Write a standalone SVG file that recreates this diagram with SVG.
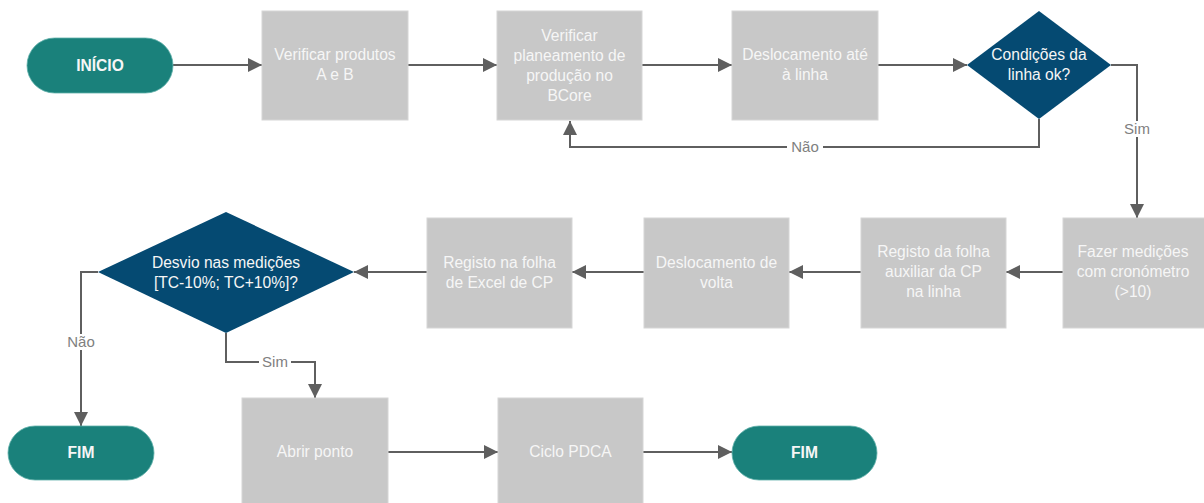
<svg xmlns="http://www.w3.org/2000/svg" width="1204" height="503" viewBox="0 0 1204 503">
<style>
.term{fill:#1a817b;stroke:#5fb0aa;stroke-width:0.8}
.proc{fill:#c8c8c8;stroke:#d6d6d6;stroke-width:1}
.dec{fill:#054a72}
.tw{font-family:"Liberation Sans",Arial,sans-serif;font-size:15.6px;fill:#f6f6f6;text-anchor:middle}
.tb{font-family:"Liberation Sans",Arial,sans-serif;font-size:15.6px;font-weight:bold;fill:#f6f6f6;text-anchor:middle}
.lbl{font-family:"Liberation Sans",Arial,sans-serif;font-size:15px;fill:#808080;text-anchor:middle}
.c{fill:none;stroke:#5f5f5f;stroke-width:2}
</style>
<defs>
<marker id="ah" markerWidth="14" markerHeight="14" viewBox="0 0 14 14" refX="14" refY="7" orient="auto" markerUnits="userSpaceOnUse">
<path d="M0,0 L14,7 L0,14 z" fill="#5f5f5f"/>
</marker>
</defs>
<rect width="1204" height="503" fill="#ffffff"/>
<g id="connectors">
<path class="c" d="M173,65 L262,65" marker-end="url(#ah)"/>
<path class="c" d="M408,65 L497,65" marker-end="url(#ah)"/>
<path class="c" d="M642,65 L732,65" marker-end="url(#ah)"/>
<path class="c" d="M878,65 L967,65" marker-end="url(#ah)"/>
<path class="c" d="M1039,119 L1039,147 L570,147 L570,121" marker-end="url(#ah)"/>
<path class="c" d="M1111,65 L1137,65 L1137,218" marker-end="url(#ah)"/>
<path class="c" d="M1063,272 L1006,272" marker-end="url(#ah)"/>
<path class="c" d="M861,272 L789,272" marker-end="url(#ah)"/>
<path class="c" d="M644,272 L572,272" marker-end="url(#ah)"/>
<path class="c" d="M427,272 L354,272" marker-end="url(#ah)"/>
<path class="c" d="M98,272 L81,272 L81,426" marker-end="url(#ah)"/>
<path class="c" d="M226,333 L226,362 L315,362 L315,398" marker-end="url(#ah)"/>
<path class="c" d="M388,452 L498,452" marker-end="url(#ah)"/>
<path class="c" d="M643,452 L732,452" marker-end="url(#ah)"/>
<rect x="787" y="139" width="36" height="16" fill="#ffffff"/>
<text class="lbl" x="805" y="152">Não</text>
<rect x="1121" y="121" width="32" height="16" fill="#ffffff"/>
<text class="lbl" x="1137" y="134">Sim</text>
<rect x="63" y="334" width="36" height="16" fill="#ffffff"/>
<text class="lbl" x="81" y="347">Não</text>
<rect x="259" y="354" width="32" height="16" fill="#ffffff"/>
<text class="lbl" x="275" y="367">Sim</text>
</g>
<g id="inicio"><rect class="term" x="27" y="38" width="146" height="55" rx="27.5"/><text class="tb" x="100" y="71">INÍCIO</text></g>
<g id="verificar-produtos"><rect class="proc" x="262" y="11" width="146" height="109"/><text class="tw" x="335" y="60">Verificar produtos</text><text class="tw" x="335" y="80">A e B</text></g>
<g id="verificar-planeamento"><rect class="proc" x="497" y="11" width="145" height="109"/><text class="tw" x="569.5" y="41">Verificar</text><text class="tw" x="569.5" y="61">planeamento de</text><text class="tw" x="569.5" y="81">produção no</text><text class="tw" x="569.5" y="101">BCore</text></g>
<g id="deslocamento-linha"><rect class="proc" x="732" y="11" width="146" height="109"/><text class="tw" x="805" y="60">Deslocamento até</text><text class="tw" x="805" y="80">à linha</text></g>
<g id="condicoes"><polygon class="dec" points="1039,11 1111,65 1039,119 967,65"/><text class="tw" x="1039" y="60">Condições da</text><text class="tw" x="1039" y="80">linha ok?</text></g>
<g id="fazer-medicoes"><rect class="proc" x="1063" y="218" width="146" height="110"/><text class="tw" x="1133" y="257">Fazer medições</text><text class="tw" x="1133" y="277">com cronómetro</text><text class="tw" x="1133" y="297">(&gt;10)</text></g>
<g id="registo-folha-auxiliar"><rect class="proc" x="861" y="218" width="145" height="110"/><text class="tw" x="933.5" y="257">Registo da folha</text><text class="tw" x="933.5" y="277">auxiliar da CP</text><text class="tw" x="933.5" y="297">na linha</text></g>
<g id="deslocamento-volta"><rect class="proc" x="644" y="218" width="145" height="110"/><text class="tw" x="716.5" y="268">Deslocamento de</text><text class="tw" x="716.5" y="288">volta</text></g>
<g id="registo-excel"><rect class="proc" x="427" y="218" width="145" height="110"/><text class="tw" x="499.5" y="268">Registo na folha</text><text class="tw" x="499.5" y="288">de Excel de CP</text></g>
<g id="desvio"><polygon class="dec" points="226,212 354,272 226,333 98,272"/><text class="tw" x="226" y="268">Desvio nas medições</text><text class="tw" x="226" y="288">[TC-10%; TC+10%]?</text></g>
<g id="fim-1"><rect class="term" x="8" y="426" width="146" height="54" rx="27"/><text class="tb" x="81" y="458">FIM</text></g>
<g id="abrir-ponto"><rect class="proc" x="242" y="398" width="146" height="110"/><text class="tw" x="315" y="457">Abrir ponto</text></g>
<g id="ciclo-pdca"><rect class="proc" x="498" y="398" width="145" height="110"/><text class="tw" x="570.5" y="457">Ciclo PDCA</text></g>
<g id="fim-2"><rect class="term" x="732" y="426" width="145" height="54" rx="27"/><text class="tb" x="804.5" y="458">FIM</text></g>
</svg>
